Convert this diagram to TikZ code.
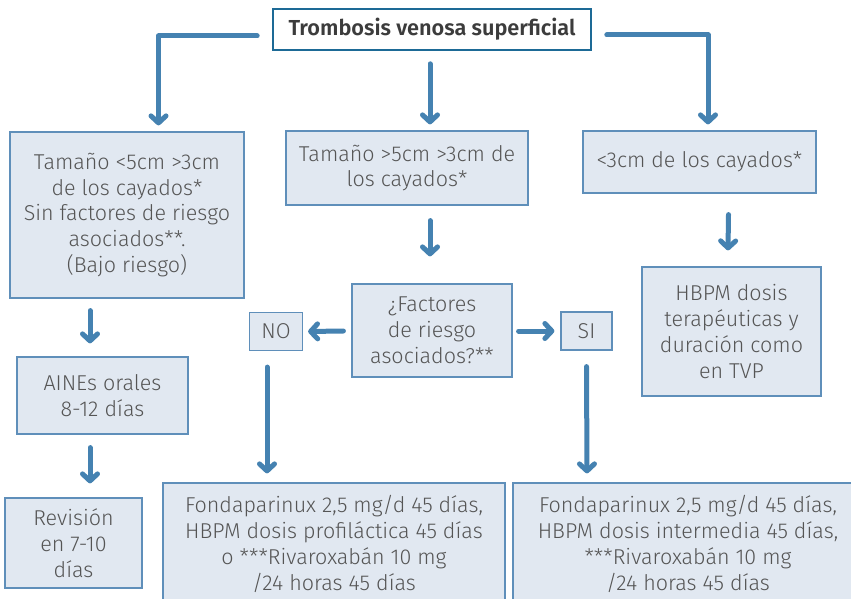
\documentclass[tikz,border=0pt]{standalone}
\usepackage{fontspec}
\setmainfont{Fira Sans Light}[BoldFont={Fira Sans SemiBold}]
\usetikzlibrary{arrows.meta,calc}
\definecolor{boxfill}{HTML}{E1E8F1}
\definecolor{boxline}{HTML}{5F8FBA}
\definecolor{arrc}{HTML}{4582B1}
\definecolor{titleline}{HTML}{1D6A96}
\definecolor{txt}{HTML}{555555}
\definecolor{ttxt}{HTML}{3C3C3C}
\tikzset{
  box/.style={draw=boxline, fill=boxfill, line width=1.2pt, text=txt, align=center,
    inner sep=0pt, font=\fontsize{21.5}{25.8}\selectfont},
  arr/.style={draw=arrc, line width=5pt, line cap=round, line join=round,
    -{Straight Barb[length=7pt,width=15pt,line cap=round,line join=round]}},
}
\begin{document}
\begin{tikzpicture}[x=1pt,y=-1pt]
\useasboundingbox (0,0) rectangle (851,599);
\clip (0,0) rectangle (851,599);
\fill[white] (0,0) rectangle (851,599);
\node[draw=titleline, fill=white, line width=1.6pt, text=ttxt, inner sep=0pt,
  minimum width=318pt, minimum height=41pt, font=\fontsize{21.7}{25}\selectfont\bfseries]
  (title) at (432,29.5) {Trombosis venosa superficial};
\node[box, minimum width=234pt, minimum height=166pt] (B1) at (127,215)
  {Tamaño <5cm >3cm\\de los cayados*\\Sin factores de riesgo\\asociados**.\\(Bajo riesgo)};
\node[box, minimum width=242pt, minimum height=74pt] (B2) at (407,168)
  {Tamaño >5cm >3cm de\\los cayados*};
\node[box, minimum width=233pt, minimum height=62pt] (B3) at (699.5,162)
  {<3cm de los cayados*};
\node[box, minimum width=179pt, minimum height=129pt] (B4) at (731.5,331.5)
  {HBPM dosis\\terapéuticas y\\duración como\\en TVP};
\node[box, minimum width=160pt, minimum height=93pt] (Q) at (432,330.5)
  {¿Factores\\de riesgo\\asociados?**};
\node[box, minimum width=53pt, minimum height=38pt] (NO) at (276,331.5) {NO};
\node[box, minimum width=51pt, minimum height=38pt] (SI) at (586.5,331) {SI};
\node[box, minimum width=171pt, minimum height=77pt] (AINE) at (102.5,395.5)
  {AINEs orales\\8-12 días};
\node[box, minimum width=137pt, minimum height=90pt] (Rev) at (73.5,543)
  {Revisión\\en 7-10\\días};
\node[box, minimum width=342pt, minimum height=122pt] (F1) at (334,544)
  {Fondaparinux 2,5 mg/d 45 días,\\HBPM dosis profiláctica 45 días\\o ***Rivaroxabán 10 mg\\/24 horas 45 días};
\node[box, minimum width=350pt, minimum height=122pt] (F2) at (688,544)
  {Fondaparinux 2,5 mg/d 45 días,\\HBPM dosis intermedia 45 días,\\***Rivaroxabán 10 mg\\/24 horas 45 días};
% connectors
\draw[arr] ($(title.west)+(-15,6.5)$) -| ($(B1.north)+(31.5,-6)$);
\draw[arr] ($(title.south)+(-2,13)$) -- ($(B2.north)+(23,-6)$);
\draw[arr] ($(title.east)+(15,5.5)$) -| ($(B3.north)+(8.5,-6)$);
\draw[arr] ($(B2.south)+(23,15)$) -- ($(Q.north)+(-2,-27)$);
\draw[arr] ($(B3.south)+(29,21)$) -- ($(B4.north)+(-3.5,-16)$);
\draw[arr] ($(B1.south)+(-37,12)$) -- ($(AINE.north)+(-12.5,-13)$);
\draw[arr] ($(AINE.south)+(-12.5,13)$) -- ($(Rev.north)+(16.5,-14)$);
\draw[arr] ($(Q.west)+(-8,0.5)$) -- ($(NO.east)+(5,0)$);
\draw[arr] ($(Q.east)+(6,0.5)$) -- ($(SI.west)+(-6,0)$);
\draw[arr] ($(NO.south)+(-9,16)$) -- ($(F1.north)+(-67,-9)$);
\draw[arr] ($(SI.south)+(0,16)$) -- ($(F2.north)+(-101,-9)$);
\end{tikzpicture}
\end{document}
